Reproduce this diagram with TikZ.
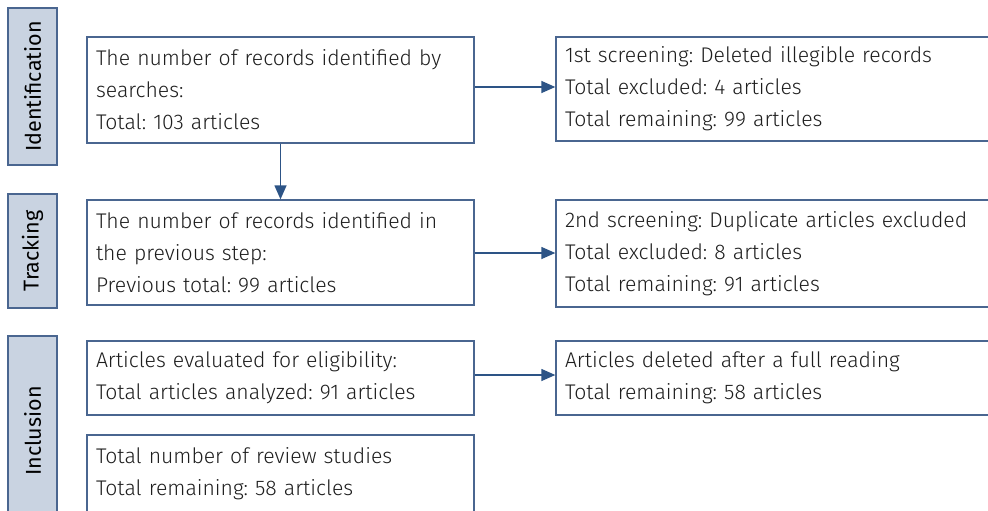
\documentclass[tikz,border=0pt]{standalone}
\usepackage{fontspec}
\setmainfont{Fira Sans Light}
\newfontfamily\labfont{Fira Sans}
\frenchspacing
\usetikzlibrary{arrows.meta}
\definecolor{bordc}{HTML}{4A6690}
\definecolor{arrc}{HTML}{2D5486}
\definecolor{labfill}{HTML}{C9D3E1}
\definecolor{txtc}{HTML}{1E1E1E}
\begin{document}
\begin{tikzpicture}[x=1pt,y=-1pt,
  every node/.style={font=\fontsize{21.2}{32}\selectfont, text=txtc},
  flowbox/.style={draw=bordc, line width=1.3pt, fill=white, inner xsep=9pt, inner ysep=0pt, align=left, text width=#1, anchor=center},
  flowbox/.default=369pt,
  sidelab/.style={draw=bordc, line width=1.3pt, fill=labfill, rotate=90, inner sep=0pt, minimum height=49pt, anchor=center, text=black, font=\labfont\fontsize{21.5}{26}\selectfont},
  conn/.style={draw=arrc, line width=1.3pt, -{Triangle[length=14pt,width=12pt]}}
]
\useasboundingbox (0,0) rectangle (988,511);
\clip (0,0) rectangle (988,511);
\node[sidelab, minimum width=157pt] (lid) at (32.5,86.5) {Identification};
\node[sidelab, minimum width=114pt] (ltr) at (32.5,251) {Tracking};
\node[sidelab, minimum width=190pt] (lin) at (32.5,431) {Inclusion};

\node[flowbox, minimum height=106pt] (b1) at (280.5,90) {The number of records identified by\\searches:\\Total: 103 articles};
\node[flowbox, minimum height=105pt] (b2) at (280.5,252.5) {The number of records identified in\\the previous step:\\Previous total: 99 articles};
\node[flowbox, minimum height=74pt] (b3) at (280.5,378) {Articles evaluated for eligibility:\\Total articles analyzed: 91 articles};
\node[flowbox, minimum height=78pt] (b4) at (280.5,474) {Total number of review studies\\Total remaining: 58 articles};

\node[flowbox=426pt, minimum height=104pt] (r1) at (778,89) {1st screening: Deleted illegible records\\Total excluded: 4 articles\\Total remaining: 99 articles};
\node[flowbox=426pt, minimum height=107pt] (r2) at (778,253.5) {2nd screening: Duplicate articles excluded\\Total excluded: 8 articles\\Total remaining: 91 articles};
\node[flowbox=426pt, minimum height=74pt] (r3) at (778,378) {Articles deleted after a full reading\\Total remaining: 58 articles};

\draw[conn] (b1.east |- 0,87) -- (r1.west |- 0,87);
\draw[conn] (b1.south) -- (b2.north);
\draw[conn] (b2.east |- 0,253) -- (r2.west |- 0,253);
\draw[conn] (b3.east |- 0,375) -- (r3.west |- 0,375);
\end{tikzpicture}
\end{document}
